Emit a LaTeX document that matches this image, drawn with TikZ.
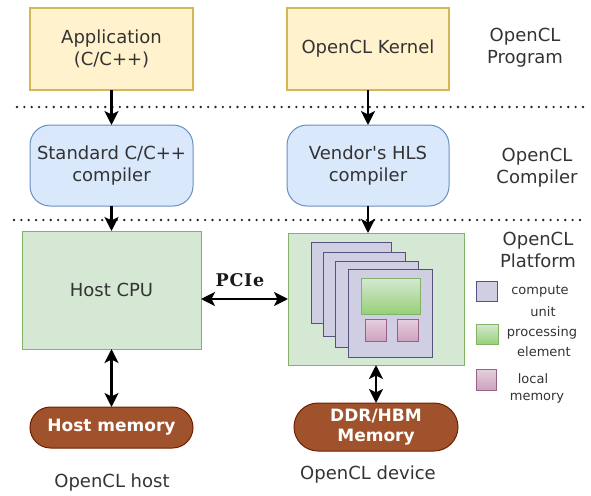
\documentclass[tikz,border=0pt]{standalone}
\usepackage{fontspec}
\setmainfont{DejaVu Sans}
\newfontfamily\pcieFont[LetterSpace=4]{DejaVu Serif}
\usetikzlibrary{arrows.meta}
\definecolor{txt}{HTML}{333333}
\definecolor{yelF}{HTML}{FFF2CC}\definecolor{yelD}{HTML}{D6B656}
\definecolor{bluF}{HTML}{DAE8FC}\definecolor{bluD}{HTML}{6C8EBF}
\definecolor{grnF}{HTML}{D5E8D4}\definecolor{grnD}{HTML}{82B366}\definecolor{grnG}{HTML}{97D077}
\definecolor{purF}{HTML}{D0CEE2}\definecolor{purD}{HTML}{56517E}
\definecolor{pnkF}{HTML}{E6D0DE}\definecolor{pnkG}{HTML}{CDA2BE}\definecolor{pnkD}{HTML}{996185}
\definecolor{brnF}{HTML}{A0522D}\definecolor{brnD}{HTML}{6D1F00}
\tikzset{
  x=1pt,y=-1pt,
  every node/.style={inner sep=0pt,outer sep=0pt,text=txt,align=center,font=\fontsize{18}{22}\selectfont},
  prog/.style={draw=yelD,fill=yelF,line width=1.2pt},
  comp/.style={draw=bluD,fill=bluF,line width=1pt,rounded corners=20pt},
  plat/.style={draw=grnD,fill=grnF,line width=1pt},
  cu/.style={draw=purD,fill=purF,line width=1pt},
  pe/.style={draw=grnD,top color=grnF,bottom color=grnG,line width=0.8pt},
  lm/.style={draw=pnkD,top color=pnkF,bottom color=pnkG,line width=0.8pt},
  mem/.style={draw=brnD,fill=brnF,line width=1pt,text=white,font=\fontsize{17}{20}\selectfont\bfseries},
  lbl/.style={},
  leg/.style={font=\fontsize{13}{16}\selectfont},
  arr/.style={line width=2.6pt,-{Stealth[length=14pt,width=14pt,inset=3.5pt]}},
  darr/.style={line width=2.6pt,{Stealth[length=14pt,width=14pt,inset=3.5pt]}-{Stealth[length=14pt,width=14pt,inset=3.5pt]}},
  sep/.style={line width=2.6pt,dash pattern=on 0pt off 7.35pt,line cap=round,draw=black!85},
}
\begin{document}
\begin{tikzpicture}
\useasboundingbox (0,0) rectangle (591,495);
% separators
\coordinate (s1a) at (17,107); \coordinate (s1b) at (590,107);
\coordinate (s2a) at (14,220); \coordinate (s2b) at (580,220);
\draw[sep] (s1a) -- (s1b);
\draw[sep] (s2a) -- (s2b);
% top row
\node[prog,minimum width=163,minimum height=82] (app) at (111.5,49) {Application\\(C/C++)};
\node[prog,minimum width=162,minimum height=82] (kern) at (368,49) {OpenCL Kernel};
\node[comp,minimum width=163,minimum height=81] (std) at (111.5,165.5) {Standard C/C++\\compiler};
\node[comp,minimum width=162,minimum height=81] (ven) at (368,165.5) {Vendor\textquotesingle s HLS\\compiler};
% platform
\node[plat,minimum width=179,minimum height=118] (host) at (111.5,290) {Host CPU};
\node[plat,minimum width=176,minimum height=132] (dev) at (376,299) {};
\node[cu,minimum width=80,minimum height=81] (cu1) at (351,282.5) {};
\node[cu,minimum width=82,minimum height=84] (cu2) at (364,294.5) {};
\node[cu,minimum width=83,minimum height=86] (cu3) at (376.5,304.5) {};
\node[cu,minimum width=84,minimum height=88] (cu4) at (390,313) {};
\node[pe,minimum width=59,minimum height=36] (pe) at (390.5,296) {};
\node[lm,minimum width=21,minimum height=22] (lm1) at (375.5,330) {};
\node[lm,minimum width=21,minimum height=22] (lm2) at (407.5,330) {};
% memories
\node[mem,minimum width=163,minimum height=41,rounded corners=20.5pt] (hmem) at (111.5,427.5) {Host memory};
\node[mem,minimum width=164,minimum height=48,rounded corners=24pt] (ddr) at (376,427) {DDR/HBM\\Memory};
% labels
\node[lbl] (lprog) at (525,47.5) {OpenCL\\Program};
\node[lbl] (lcomp) at (537,167.5) {OpenCL\\Compiler};
\node[lbl] (lplat) at (538,250) {OpenCL\\Platform};
\node[lbl] (lhost) at (112,483) {OpenCL host};
\node[lbl] (ldev) at (368,475) {OpenCL device};
\node[font=\fontsize{17.5}{20}\selectfont\pcieFont\bfseries,text=black!90] (pcie) at (240,280) {PCIe};
% legend
\node[cu,minimum width=21,minimum height=20] (kcu) at (486.5,291) {};
\node[pe,minimum width=22,minimum height=20] (kpe) at (487,334) {};
\node[lm,minimum width=20,minimum height=21] (klm) at (486,379.5) {};
\node[leg] (t1) at (540,291) {compute};
\node[leg] (t2) at (543,312) {unit};
\node[leg] (t3) at (542,333) {processing};
\node[leg] (t4) at (544,352) {element};
\node[leg] (t5) at (533,379) {local};
\node[leg] (t6) at (537,398) {memory};
% arrows
\draw[arr] (app) -- (std);
\draw[arr] (kern) -- (ven);
\draw[arr] (std) -- (host);
\draw[arr] (ven.south) -- (ven.south |- dev.north);
\draw[darr] (dev.west -| host.east) -- (dev.west);
\draw[darr] (host) -- (hmem);
\draw[darr] (dev) -- (ddr);
\end{tikzpicture}
\end{document}
